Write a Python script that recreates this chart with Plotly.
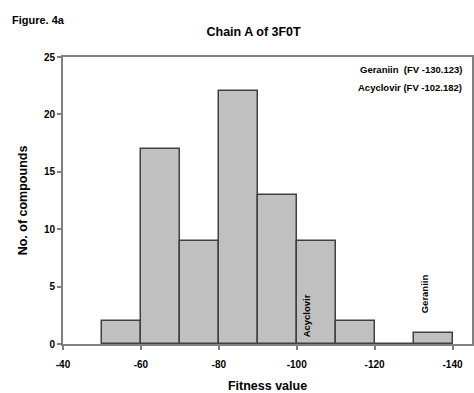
import plotly.graph_objects as go

bin_left = [-50, -60, -70, -80, -90, -100, -110, -120, -130]
counts = [2, 17, 9, 22, 13, 9, 2, 0, 1]
bin_width = -10
x_ticks = [-40, -60, -80, -100, -120, -140]
y_ticks = [0, 5, 10, 15, 20, 25]

centers = [b + bin_width / 2 for b in bin_left]
FONT = "Liberation Sans, Arial, sans-serif"

fig = go.Figure()
fig.add_trace(go.Bar(
    x=centers, y=counts, width=[abs(bin_width)] * len(counts),
    marker=dict(color="#c0c0c0", line=dict(color="#404040", width=1.5)),
))

fig.update_layout(
    width=474, height=393,
    margin=dict(l=63, r=0, t=57, b=49),
    paper_bgcolor="white", plot_bgcolor="white",
    showlegend=False, bargap=0,
    font=dict(family=FONT, color="black", size=10),
    title=dict(text="<b>Chain A of 3F0T</b>", x=0.466, xref="paper", xanchor="center",
               y=1 - 32 / 393, yanchor="middle", font=dict(size=12.5, family=FONT)),
)
fig.update_xaxes(
    range=[-40, -145], tickvals=x_ticks, ticktext=[f"<b>{v}</b>" for v in x_ticks],
    showline=True, linecolor="#808080", linewidth=2, mirror=True,
    ticks="outside", ticklen=4, tickcolor="#808080", tickwidth=1.5,
    ticklabelstandoff=6,
    showgrid=False, zeroline=False, tickfont=dict(size=10),
    title=dict(text="<b>Fitness value</b>", font=dict(size=12.5), standoff=14),
)
fig.update_yaxes(
    range=[0, 25], tickvals=y_ticks, ticktext=[f"<b>{v}</b>" for v in y_ticks],
    showline=True, linecolor="#808080", linewidth=2, mirror=True,
    ticks="outside", ticklen=4, tickcolor="#808080", tickwidth=1.5,
    showgrid=False, zeroline=False, tickfont=dict(size=10),
    title=dict(text="<b>No. of compounds</b>", font=dict(size=12.5), standoff=14),
)

fig.add_annotation(text="<b>Figure. 4a</b>", xref="paper", yref="paper", x=-0.13, y=1 + 37 / 287,
                   xanchor="left", yanchor="middle", showarrow=False, font=dict(size=11))
fig.add_annotation(text="<b>Geraniin  (FV -130.123)</b>", xref="paper", yref="paper", x=0.98, y=0.955,
                   xanchor="right", yanchor="middle", showarrow=False, font=dict(size=9.5))
fig.add_annotation(text="<b>Acyclovir (FV -102.182)</b>", xref="paper", yref="paper", x=0.98, y=0.895,
                   xanchor="right", yanchor="middle", showarrow=False, font=dict(size=9.5))
fig.add_annotation(text="<b>Acyclovir</b>", x=-102.5, y=0.4, xref="x", yref="y", textangle=-90,
                   xanchor="center", yanchor="bottom", showarrow=False, font=dict(size=9.5))
fig.add_annotation(text="<b>Geraniin</b>", x=-132.8, y=2.5, xref="x", yref="y", textangle=-90,
                   xanchor="center", yanchor="bottom", showarrow=False, font=dict(size=9.5))

fig.write_html("out.html")
